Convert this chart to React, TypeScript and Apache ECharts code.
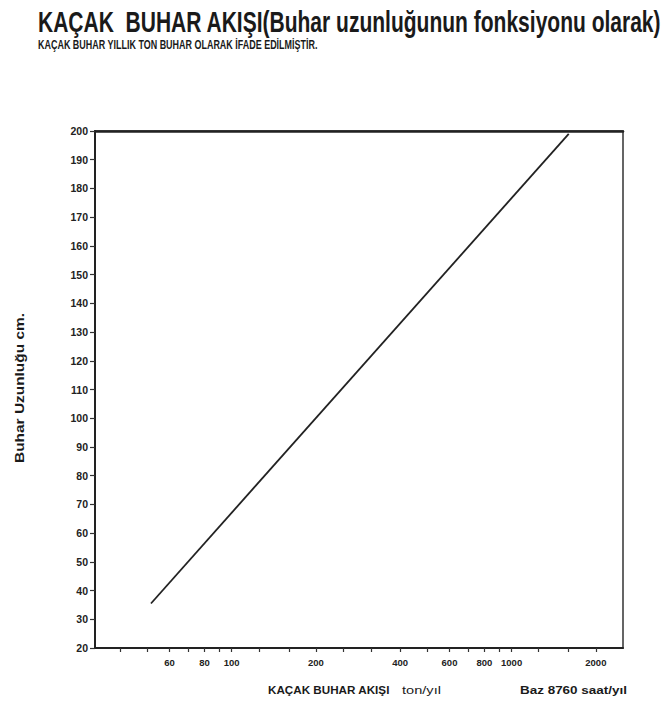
import { useEffect, useRef } from "react";
import * as echarts from "echarts";

const titleText = "KAÇAK  BUHAR AKIŞI(Buhar uzunluğunun fonksiyonu olarak)";
const subtitleText = "KAÇAK BUHAR YILLIK TON BUHAR OLARAK İFADE EDİLMİŞTİR.";
const yAxisName = "Buhar Uzunluğu cm.";
const xAxisNameBold = "KAÇAK BUHAR AKIŞI";
const xAxisUnit = "ton/yıl";
const baseNote = "Baz 8760 saat/yıl";

const xLabelValues = [60, 80, 100, 200, 400, 600, 800, 1000, 2000];
const xTickValues = [40, 50, 60, 70, 80, 90, 100, 125, 160, 200, 250, 315, 400, 500, 600, 700, 800, 900, 1000, 1250, 1600, 2000];
const xMin = 32.5;
const xMax = 2500;
const yMin = 20;
const yMax = 200;
const yStep = 10;

const flowTonPerYear = [51.5, 1600];
const lengthCm = [35.5, 199];

const FONT = '"Liberation Sans", Arial, sans-serif';

function measure(text: string, font: string): number {
  const ctx = document.createElement("canvas").getContext("2d");
  if (!ctx) return text.length * 10;
  ctx.font = font;
  return ctx.measureText(text).width;
}

function fitText(
  text: string,
  x: number,
  y: number,
  size: number,
  weight: string,
  width: number,
  va: string,
  align: string = "left",
  rotation: number = 0
) {
  const font = `${weight} ${size}px ${FONT}`;
  const w = measure(text, font);
  return {
    type: "text",
    x,
    y,
    rotation,
    scaleX: width / w,
    style: {
      text,
      font,
      fill: "#1a1a1a",
      align,
      verticalAlign: va,
    },
  };
}

export default function App() {
  const ref = useRef<HTMLDivElement>(null);
  useEffect(() => {
    if (!ref.current) return;
    const chart = echarts.init(ref.current, null, { renderer: "svg" });
    const lineData = flowTonPerYear.map((x, i) => [x, lengthCm[i]]);
    chart.setOption({
      animation: false,
      backgroundColor: "#ffffff",
      grid: {
        left: 95,
        right: 46,
        top: 131,
        bottom: 58,
        show: true,
        borderColor: "#333",
        borderWidth: 1.5,
        backgroundColor: "transparent",
      },
      xAxis: [
        {
          type: "log",
          logBase: 10,
          min: xMin,
          max: xMax,
          axisLine: { show: true, lineStyle: { color: "#222", width: 2 } },
          axisTick: {
            show: true,
            customValues: xTickValues,
            length: 4,
            lineStyle: { color: "#333", width: 1.2 },
          },
          minorTick: { show: false },
          axisLabel: {
            customValues: xLabelValues,
            formatter: (v: number) => String(Math.round(v)),
            margin: 9,
            fontSize: 9.5,
            fontWeight: "bold",
            fontFamily: FONT,
            color: "#222",
          },
          splitLine: { show: false },
        },
        {
          type: "log",
          logBase: 10,
          position: "top",
          min: xMin,
          max: xMax,
          axisLine: { show: true, lineStyle: { color: "#222", width: 2.5 } },
          axisTick: { show: false },
          axisLabel: { show: false },
          splitLine: { show: false },
        },
      ],
      yAxis: {
        type: "value",
        min: yMin,
        max: yMax,
        interval: yStep,
        axisLine: { show: true, lineStyle: { color: "#222", width: 2 } },
        axisTick: { show: true, length: 5, lineStyle: { color: "#333", width: 1.2 } },
        axisLabel: {
          margin: 7,
          fontSize: 10.5,
          fontWeight: "bold",
          fontFamily: FONT,
          color: "#222",
        },
        splitLine: { show: false },
      },
      series: [
        {
          type: "line",
          data: lineData,
          xAxisIndex: 0,
          showSymbol: false,
          symbol: "none",
          lineStyle: { color: "#222", width: 1.8 },
        },
      ],
      graphic: [
        fitText(titleText, 38, 7, 29, "bold", 624, "top"),
        fitText(subtitleText, 38, 38, 12, "bold", 280, "top"),
        fitText(yAxisName, 20, 388, 12, "bold", 150, "middle", "center", Math.PI / 2),
        fitText(xAxisNameBold, 268, 690, 11, "bold", 122, "middle"),
        fitText(xAxisUnit, 402, 690, 11, "normal", 39, "middle"),
        fitText(baseNote, 520, 690, 11, "bold", 107, "middle"),
      ],
    });
    return () => chart.dispose();
  }, []);
  return (
    <div
      ref={ref}
      style={{ position: "absolute", left: 0, top: 0, width: 669, height: 706, background: "#fff" }}
    />
  );
}
